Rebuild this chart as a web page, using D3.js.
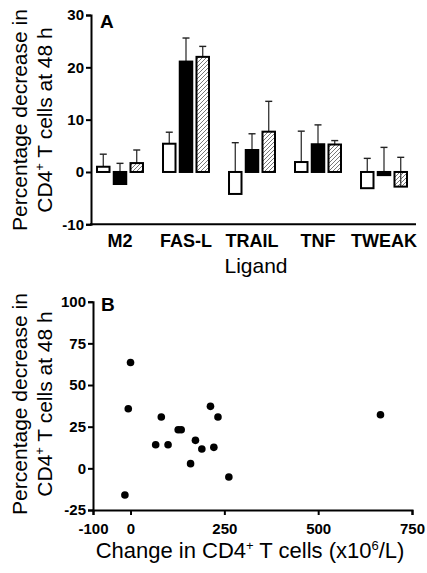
<!DOCTYPE html>
<html>
<head>
<meta charset="utf-8">
<script src="https://cdn.jsdelivr.net/npm/d3@7"></script>
<style>
  body { margin: 0; background: #fff; }
  text { font-family: "Liberation Sans", Arial, sans-serif; fill: #000; }
</style>
</head>
<body>
<div id="chart"></div>
<script>
// panel A data
const ligands = ["M2", "FAS-L", "TRAIL", "TNF", "TWEAK"];
const series = ["open", "black", "hatched"];
const meanOpen = [1.0, 5.4, -4.2, 1.9, -3.1];
const meanBlack = [-2.3, 21.1, 4.2, 5.3, -0.6];
const meanHatched = [1.7, 22.0, 7.7, 5.25, -2.8];
const topOpen = [3.4, 7.6, 5.6, 7.8, 2.6];   // error bar tips
const topBlack = [1.65, 25.6, 7.3, 9.0, 4.7];
const topHatched = [4.2, 24.0, 13.5, 6.0, 2.8];
const yTicksA = [-10, 0, 10, 20, 30];

// panel B data
const changeCD4 = [0, -6, -15, 67, 82, 100, 127, 135, 160, 173, 190, 213, 222, 233, 262, 666];
const pctDecrease = [63.5, 35.8, -16, 14.2, 30.8, 14.2, 23.2, 23.2, 2.8, 16.8, 11.6, 37.2, 12.6, 30.8, -5.2, 32.2];
const xTicksB = [-100, 0, 250, 500, 750];
const yTicksB = [-25, 0, 25, 50, 75, 100];

const svg = d3.select("#chart").append("svg")
  .attr("width", 427)
  .attr("height", 573);

const defs = svg.append("defs");
defs.append("pattern")
  .attr("id", "hatch")
  .attr("patternUnits", "userSpaceOnUse")
  .attr("width", 4)
  .attr("height", 4)
  .append("path")
  .attr("d", "M-1,1 l2,-2 M0,4 l4,-4 M3,5 l2,-2")
  .attr("stroke", "#555")
  .attr("stroke-width", 0.8);

function styleAxis(ax) {
  ax.attr("font-family", null).attr("font-size", null);
  ax.select(".domain").attr("stroke-width", 2);
  ax.selectAll(".tick line").attr("stroke-width", 2);
  ax.selectAll(".tick text")
    .attr("font-family", "'Liberation Sans', Arial, sans-serif")
    .attr("font-weight", "bold")
    .attr("font-size", 15);
}

// ---------- PANEL A ----------
const yA = d3.scaleLinear().domain([-10, 30]).range([224.3, 15]);
const xA = d3.scaleBand().domain(ligands).range([87, 417]).paddingInner(0.273).paddingOuter(0.1365);
const xSub = d3.scaleBand().domain(series).range([0, xA.bandwidth()]).paddingInner(0.134);

const rows = [];
ligands.forEach((l, i) => {
  rows.push({ lig: l, s: "open", v: meanOpen[i], top: topOpen[i] });
  rows.push({ lig: l, s: "black", v: meanBlack[i], top: topBlack[i] });
  rows.push({ lig: l, s: "hatched", v: meanHatched[i], top: topHatched[i] });
});

const gA = svg.append("g");
const cx = d => xA(d.lig) + xSub(d.s) + xSub.bandwidth() / 2;

// error bars first, bars drawn over them
const eb = gA.selectAll(".err").data(rows).enter().append("g");
eb.append("line")
  .attr("x1", cx).attr("x2", cx)
  .attr("y1", d => yA(d.v))
  .attr("y2", d => yA(d.top))
  .attr("stroke", "#222")
  .attr("stroke-width", 1.2);
eb.append("line")
  .attr("x1", d => cx(d) - 3.5)
  .attr("x2", d => cx(d) + 3.5)
  .attr("y1", d => yA(d.top))
  .attr("y2", d => yA(d.top))
  .attr("stroke", "#222")
  .attr("stroke-width", 1.4);

gA.selectAll(".bar").data(rows).enter().append("rect")
  .attr("x", d => xA(d.lig) + xSub(d.s) + 1)
  .attr("width", xSub.bandwidth() - 2)
  .attr("y", d => yA(Math.max(0, d.v)))
  .attr("height", d => Math.abs(yA(d.v) - yA(0)))
  .attr("fill", d => d.s === "open" ? "#fff" : d.s === "black" ? "#000" : "url(#hatch)")
  .attr("stroke", "#000")
  .attr("stroke-width", 2);

// axes A
const axA = gA.append("g")
  .attr("transform", "translate(91,0)")
  .call(d3.axisLeft(yA).tickValues(yTicksA).tickFormat(d => String(d)).tickSize(5).tickPadding(2));
styleAxis(axA);

gA.append("line")
  .attr("x1", 90).attr("x2", 416)
  .attr("y1", yA(-10)).attr("y2", yA(-10))
  .attr("stroke", "#000").attr("stroke-width", 2);

gA.selectAll(".cat").data(ligands).enter().append("text")
  .attr("x", d => xA(d) + xA.bandwidth() / 2)
  .attr("y", 247)
  .attr("text-anchor", "middle")
  .style("font-weight", "bold")
  .style("font-size", "18px")
  .text(d => d);

gA.append("text")
  .attr("x", 256).attr("y", 273)
  .attr("text-anchor", "middle")
  .style("font-size", "21px")
  .text("Ligand");

gA.append("text")
  .attr("x", 100).attr("y", 28)
  .style("font-size", "19px").style("font-weight", "bold")
  .text("A");

function yTitle(g, cy) {
  g.append("text")
    .attr("transform", `translate(27,${cy}) rotate(-90)`)
    .attr("text-anchor", "middle")
    .style("font-size", "21px")
    .text("Percentage decrease in");
  const t = g.append("text")
    .attr("transform", `translate(52,${cy}) rotate(-90)`)
    .attr("text-anchor", "middle")
    .style("font-size", "21px");
  t.append("tspan").text("CD4");
  t.append("tspan").attr("dy", -8).style("font-size", "13px").text("+");
  t.append("tspan").attr("dy", 8).text(" T cells at 48 h");
}
yTitle(gA, 120);

// ---------- PANEL B ----------
const xB = d3.scaleLinear().domain([-100, 750]).range([93, 412]);
const yB = d3.scaleLinear().domain([-25, 100]).range([510, 301.7]);
const gB = svg.append("g");

const axBy = gB.append("g")
  .attr("transform", "translate(93,0)")
  .call(d3.axisLeft(yB).tickValues(yTicksB).tickFormat(d => String(d)).tickSize(5).tickPadding(2));
styleAxis(axBy);

const axBx = gB.append("g")
  .attr("transform", "translate(0,510)")
  .call(d3.axisBottom(xB).tickValues(xTicksB).tickFormat(d => String(d)).tickSize(5).tickPadding(8));
styleAxis(axBx);

gB.selectAll(".dot").data(changeCD4).enter().append("circle")
  .attr("cx", d => xB(d))
  .attr("cy", (d, i) => yB(pctDecrease[i]))
  .attr("r", 3.8)
  .attr("fill", "#000");

gB.append("text")
  .attr("x", 101).attr("y", 311)
  .style("font-size", "19px").style("font-weight", "bold")
  .text("B");

const xt = gB.append("text")
  .attr("x", 250).attr("y", 558)
  .attr("text-anchor", "middle")
  .style("font-size", "22px");
xt.append("tspan").text("Change in CD4");
xt.append("tspan").attr("dy", -8).style("font-size", "13px").text("+");
xt.append("tspan").attr("dy", 8).text(" T cells (x10");
xt.append("tspan").attr("dy", -8).style("font-size", "13px").text("6");
xt.append("tspan").attr("dy", 8).text("/L)");

yTitle(gB, 404);
</script>
</body>
</html>
